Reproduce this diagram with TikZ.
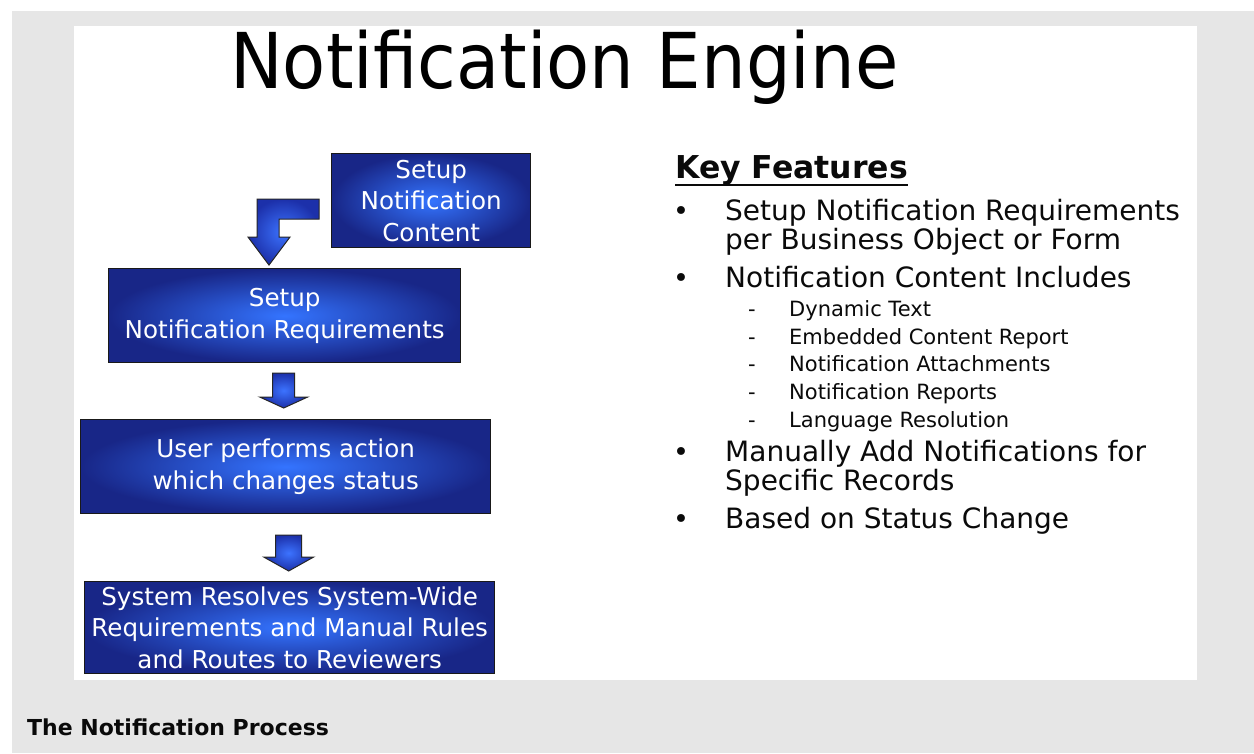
\documentclass[tikz,border=0pt]{standalone}
\usepackage{fontspec}
\setmainfont{DejaVu Sans}
\newfontfamily\titlefont[FakeStretch=0.915]{DejaVu Sans}
\usetikzlibrary{calc}
\definecolor{pagegray}{RGB}{230,230,230}
\definecolor{boxin}{RGB}{52,116,255}
\definecolor{boxout}{RGB}{24,38,135}
\definecolor{arrowin}{RGB}{60,115,255}
\definecolor{arrowout}{RGB}{28,48,170}
\definecolor{inkblack}{RGB}{10,10,10}
\tikzset{
  stepbox/.style={draw=black!90, line width=1.4pt, inner color=boxin, outer color=boxout,
    text=white, align=center, inner sep=0pt, anchor=north west,
    font=\fontsize{24.6}{31.5}\selectfont},
  blockarrow/.style={draw=black!85, line width=1pt, line join=miter, inner color=arrowin, outer color=arrowout},
  bodytext/.style={anchor=base west, inner sep=0pt, text=inkblack, font=\fontsize{28}{29}\selectfont},
  subtext/.style={anchor=base west, inner sep=0pt, text=inkblack, font=\fontsize{21}{24}\selectfont},
  bulletmark/.style={anchor=base, inner sep=0pt, text=inkblack, font=\fontsize{27}{29}\selectfont},
  dashmark/.style={anchor=base, inner sep=0pt, text=inkblack, font=\fontsize{21}{24}\selectfont}
}
\begin{document}
\begin{tikzpicture}[x=1pt,y=-1pt]
\useasboundingbox (0,0) rectangle (1254,753);
% backgrounds
\fill[white] (0,0) rectangle (1254,753);
\fill[pagegray] (12,11) rectangle (1254,753);
\fill[white] (74,26) rectangle (1197,680);

% title
\node[anchor=base west, inner sep=0pt, font=\titlefont\fontsize{77}{80}\selectfont] (title) at (230,88) {Notification Engine};

% flow boxes
\node[stepbox, minimum width=199pt, minimum height=94pt] (content) at (331,153) {Setup\\Notification\\Content};
\node[stepbox, minimum width=352pt, minimum height=94pt] (req) at (108,268) {Setup\\Notification Requirements};
\node[stepbox, minimum width=410pt, minimum height=94pt] (user) at (80,419) {User performs action\\which changes status};
\node[stepbox, minimum width=410pt, minimum height=92pt] (sys) at (84,581) {System Resolves System-Wide\\Requirements and Manual Rules\\and Routes to Reviewers};

% block arrows
\coordinate (t1) at ($(req.north west)+(161,-3)$);
\coordinate (t2) at ($(user.north)+(-2,-11)$);
\coordinate (t3) at ($(sys.north)+(-1,-10)$);
\draw[blockarrow, shift={(t1)}] (0,0) -- (-21,-28) -- (-12,-28) -- (-12,-66) -- (50,-66) -- (50,-46) -- (10,-46) -- (10,-28) -- (21,-28) -- cycle;
\draw[blockarrow, shift={(t2)}] (0,0) -- (-24,-11) -- (-11,-11) -- (-11,-35) -- (11,-35) -- (11,-11) -- (24,-11) -- cycle;
\draw[blockarrow, shift={(t3)}] (0,0) -- (-25,-14) -- (-13,-14) -- (-13,-36) -- (13,-36) -- (13,-14) -- (25,-14) -- cycle;

% key features
\node[anchor=base west, inner sep=0pt, text=inkblack, font=\bfseries\fontsize{31.5}{34}\selectfont] (kf) at (675,178) {Key Features};
\draw[inkblack, line width=2pt] ($(kf.base west)+(0,7)$) -- ($(kf.base east)+(0,7)$);

\node[bulletmark] (b1) at (681,220) {•};
\node[bodytext] (l1a) at (725,220) {Setup Notification Requirements};
\node[bodytext] (l1b) at (725,249) {per Business Object or Form};
\node[bulletmark] (b2) at (681,287) {•};
\node[bodytext] (l2) at (725,287) {Notification Content Includes};
\node[dashmark] (d1) at (752,316) {-};
\node[subtext] (s1) at (789,316) {Dynamic Text};
\node[dashmark] (d2) at (752,344) {-};
\node[subtext] (s2) at (789,344) {Embedded Content Report};
\node[dashmark] (d3) at (752,371) {-};
\node[subtext] (s3) at (789,371) {Notification Attachments};
\node[dashmark] (d4) at (752,399) {-};
\node[subtext] (s4) at (789,399) {Notification Reports};
\node[dashmark] (d5) at (752,427) {-};
\node[subtext] (s5) at (789,427) {Language Resolution};
\node[bulletmark] (b3) at (681,461) {•};
\node[bodytext] (l3a) at (725,461) {Manually Add Notifications for};
\node[bodytext] (l3b) at (725,490) {Specific Records};
\node[bulletmark] (b4) at (681,528) {•};
\node[bodytext] (l4) at (725,528) {Based on Status Change};

% caption
\node[anchor=base west, inner sep=0pt, text=inkblack, font=\bfseries\fontsize{22}{24}\selectfont] (cap) at (27,735) {The Notification Process};
\end{tikzpicture}
\end{document}
